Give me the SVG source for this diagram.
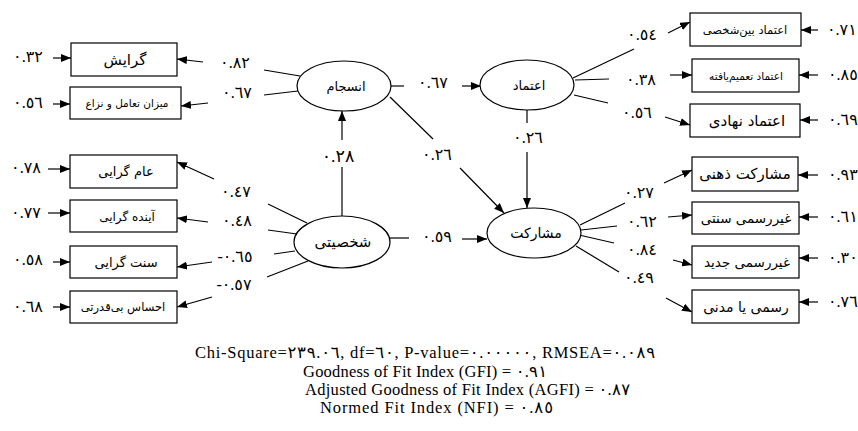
<svg xmlns="http://www.w3.org/2000/svg" width="858" height="431" viewBox="0 0 858 431">
<defs>
<marker id="ah" viewBox="0 0 10 8" refX="10" refY="4" markerWidth="10" markerHeight="8" markerUnits="userSpaceOnUse" orient="auto">
<path d="M0,0 L10,4 L0,8 z" fill="#000"/>
</marker>
<style>
.box{fill:#fff;stroke:#000;stroke-width:1.2}
.ell{fill:#fff;stroke:#000;stroke-width:1.2}
.fa{font-family:"DejaVu Sans","Noto Sans",sans-serif;font-size:13px;fill:#000;text-anchor:middle}
.num{font-family:"Liberation Serif","DejaVu Sans",serif;font-size:16px;letter-spacing:0.3px;fill:#000;text-anchor:middle}
.err{text-anchor:start}
.ln{stroke:#000;stroke-width:1.2;fill:none}
.ar{stroke:#000;stroke-width:1.2;fill:none;marker-end:url(#ah)}
.en{font-family:"Liberation Serif","DejaVu Sans",serif;font-size:16.5px;fill:#000}
</style>
</defs>

<g id="connectors">
<line class="ar" x1="53" y1="58" x2="71" y2="58"/>
<line class="ar" x1="53" y1="104" x2="70" y2="104"/>
<line class="ar" x1="48" y1="169" x2="70" y2="169"/>
<line class="ar" x1="48" y1="213" x2="70" y2="213"/>
<line class="ar" x1="53" y1="262" x2="70" y2="262"/>
<line class="ar" x1="53" y1="307" x2="70" y2="307"/>
<line class="ln" x1="300" y1="76" x2="264" y2="70"/>
<line class="ar" x1="203" y1="62" x2="177" y2="59"/>
<line class="ln" x1="298" y1="91" x2="264" y2="95"/>
<line class="ar" x1="208" y1="103" x2="181" y2="106"/>
<line class="ln" x1="307" y1="223" x2="268" y2="204"/>
<line class="ar" x1="214" y1="179" x2="177" y2="162"/>
<line class="ln" x1="297" y1="234" x2="268" y2="230"/>
<line class="ar" x1="208" y1="222" x2="177" y2="218"/>
<line class="ln" x1="295" y1="251" x2="274" y2="254"/>
<line class="ar" x1="212" y1="262" x2="177" y2="267"/>
<line class="ln" x1="308" y1="261" x2="267" y2="277"/>
<line class="ar" x1="212" y1="297" x2="177" y2="307"/>
<line class="ln" x1="391" y1="86" x2="404" y2="86"/>
<line class="ar" x1="462" y1="86" x2="481" y2="86"/>
<line class="ln" x1="527" y1="110" x2="527" y2="123"/>
<line class="ar" x1="527" y1="152" x2="527" y2="208"/>
<line class="ln" x1="390" y1="97" x2="433" y2="139"/>
<line class="ar" x1="460" y1="168" x2="504" y2="213"/>
<line class="ln" x1="342" y1="216" x2="342" y2="167"/>
<line class="ar" x1="342" y1="140" x2="342" y2="111"/>
<line class="ln" x1="390" y1="238" x2="409" y2="238"/>
<line class="ar" x1="462" y1="239" x2="487" y2="239"/>
<line class="ln" x1="573" y1="78" x2="634" y2="49"/>
<line class="ar" x1="668" y1="33" x2="690" y2="22"/>
<line class="ln" x1="575" y1="80" x2="609" y2="79"/>
<line class="ar" x1="670" y1="75" x2="692" y2="75"/>
<line class="ln" x1="574" y1="95" x2="608" y2="103"/>
<line class="ar" x1="665" y1="117" x2="690" y2="125"/>
<line class="ln" x1="580" y1="225" x2="625" y2="203"/>
<line class="ar" x1="664" y1="183" x2="692" y2="170"/>
<line class="ln" x1="581" y1="230" x2="617" y2="226"/>
<line class="ar" x1="668" y1="217" x2="692" y2="215"/>
<line class="ln" x1="579" y1="235" x2="614" y2="243"/>
<line class="ar" x1="673" y1="260" x2="692" y2="265"/>
<line class="ln" x1="576" y1="246" x2="619" y2="272"/>
<line class="ar" x1="666" y1="298" x2="692" y2="312"/>
<line class="ar" x1="818" y1="30" x2="801" y2="30"/>
<line class="ar" x1="818" y1="75" x2="799" y2="75"/>
<line class="ar" x1="818" y1="120" x2="800" y2="120"/>
<line class="ar" x1="818" y1="175" x2="798" y2="175"/>
<line class="ar" x1="818" y1="217" x2="799" y2="217"/>
<line class="ar" x1="818" y1="258" x2="799" y2="258"/>
<line class="ar" x1="818" y1="302" x2="799" y2="302"/>
</g>

<g id="labels">
<text class="num" x="28" y="62">٠.٣٢</text>
<text class="num" x="28" y="108">٠.٥٦</text>
<text class="num" x="26" y="173">٠.٧٨</text>
<text class="num" x="26" y="218">٠.٧٧</text>
<text class="num" x="28" y="265">٠.٥٨</text>
<text class="num" x="28" y="312">٠.٦٨</text>
<text class="num" x="235" y="68">٠.٨٢</text>
<text class="num" x="237" y="98">٠.٦٧</text>
<text class="num" x="236" y="197">٠.٤٧</text>
<text class="num" x="237" y="226">٠.٤٨</text>
<text class="num" x="235" y="262">-٠.٦٥</text>
<text class="num" x="234" y="290">-٠.٥٧</text>
<text class="num" x="433" y="88">٠.٦٧</text>
<text class="num" x="528" y="143">٠.٢٦</text>
<text class="num" x="437" y="160">٠.٢٦</text>
<text class="num" x="338" y="162" style="font-size:17.5px">٠.٢٨</text>
<text class="num" x="437" y="242">٠.٥٩</text>
<text class="num" x="642" y="40">٠.٥٤</text>
<text class="num" x="641" y="85">٠.٣٨</text>
<text class="num" x="637" y="118">٠.٥٦</text>
<text class="num" x="639" y="198">٠.٢٧</text>
<text class="num" x="642" y="227">٠.٦٢</text>
<text class="num" x="642" y="255">٠.٨٤</text>
<text class="num" x="639" y="283">٠.٤٩</text>
<text class="num err" x="827" y="35">٠.٧١</text>
<text class="num err" x="828" y="80" style="letter-spacing:0">٠.٨٥</text>
<text class="num err" x="828" y="125">٠.٦٩</text>
<text class="num err" x="828" y="180">٠.٩٣</text>
<text class="num err" x="828" y="222">٠.٦١</text>
<text class="num err" x="828" y="263">٠.٣٠</text>
<text class="num err" x="828" y="307">٠.٧٦</text>
</g>

<g id="n-gerayesh"><rect class="box" x="71" y="43" width="106" height="33"/><text class="fa" x="125" y="65" style="font-size:15px">گرایش</text></g>
<g id="n-mizan"><rect class="box" x="70" y="87" width="111" height="32"/><text class="fa" x="127" y="107" style="font-size:10.5px">میزان تعامل و نزاع</text></g>
<g id="n-amgerayi"><rect class="box" x="70" y="155" width="107" height="33"/><text class="fa" x="126" y="176">عام گرایی</text></g>
<g id="n-ayandegerayi"><rect class="box" x="70" y="200" width="107" height="32"/><text class="fa" x="127" y="221" style="font-size:12px">آینده گرایی</text></g>
<g id="n-sonnatgerayi"><rect class="box" x="70" y="246" width="107" height="32"/><text class="fa" x="126" y="267">سنت گرایی</text></g>
<g id="n-bighodrati"><rect class="box" x="70" y="291" width="107" height="32"/><text class="fa" x="123" y="311" style="font-size:11.5px">احساس بی‌قدرتی</text></g>

<g id="n-ensejam"><ellipse class="ell" cx="344" cy="86" rx="47" ry="25"/><text class="fa" x="346" y="91">انسجام</text></g>
<g id="n-etemad"><ellipse class="ell" cx="527" cy="85" rx="47" ry="25"/><text class="fa" x="529" y="90">اعتماد</text></g>
<g id="n-shakhsiati"><ellipse class="ell" cx="342" cy="242" rx="48" ry="26"/><text class="fa" x="343" y="247" style="font-size:15px">شخصیتی</text></g>
<g id="n-mosharekat"><ellipse class="ell" cx="534" cy="233" rx="47" ry="25"/><text class="fa" x="536" y="238" style="font-size:14px">مشارکت</text></g>

<g id="n-beynshakhsi"><rect class="box" x="690" y="13" width="111" height="33"/><text class="fa" x="745" y="34" style="font-size:11.5px">اعتماد بین‌شخصی</text></g>
<g id="n-tamimyafte"><rect class="box" x="692" y="59" width="107" height="33"/><text class="fa" x="746" y="80" style="font-size:10.5px">اعتماد تعمیم‌یافته</text></g>
<g id="n-nahadi"><rect class="box" x="690" y="104" width="110" height="33"/><text class="fa" x="747" y="126" style="font-size:15px">اعتماد نهادی</text></g>
<g id="n-zehni"><rect class="box" x="692" y="157" width="106" height="34"/><text class="fa" x="745" y="179" style="font-size:15px">مشارکت ذهنی</text></g>
<g id="n-sonnati"><rect class="box" x="692" y="202" width="107" height="32"/><text class="fa" x="746" y="223" style="font-size:13.5px">غیررسمی سنتی</text></g>
<g id="n-jadid"><rect class="box" x="692" y="246" width="107" height="32"/><text class="fa" x="747" y="267" style="font-size:13.5px">غیررسمی جدید</text></g>
<g id="n-madani"><rect class="box" x="692" y="290" width="107" height="33"/><text class="fa" x="746" y="312" style="font-size:14px">رسمی یا مدنی</text></g>

<g id="fit">
<text class="en" x="195" y="358" textLength="460" lengthAdjust="spacing">Chi-Square=٢٣٩.٠٦,  df=٦٠,  P-value=٠.٠٠٠٠٠,  RMSEA=٠.٠٨٩</text>
<text class="en" x="303" y="377" textLength="244" lengthAdjust="spacing">Goodness of Fit Index (GFI) = ٠.٩١</text>
<text class="en" x="305" y="395" textLength="325" lengthAdjust="spacing">Adjusted Goodness of Fit Index (AGFI) = ٠.٨٧</text>
<text class="en" x="320" y="413" textLength="233" lengthAdjust="spacing">Normed Fit Index (NFI) = ٠.٨٥</text>
</g>
</svg>
